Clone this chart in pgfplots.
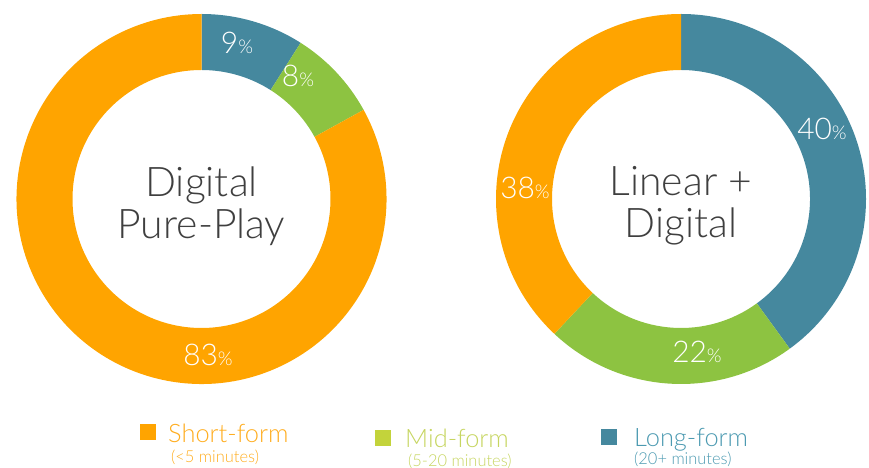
\documentclass[border=0pt]{standalone}
\usepackage{pgfplots}
\pgfplotsset{compat=1.18}
\usepackage{fontspec}
\setmainfont{Lato}[UprightFont=* Light]

\definecolor{shortc}{HTML}{FFA400}
\definecolor{midc}{HTML}{8DC341}
\definecolor{longc}{HTML}{45889E}
\definecolor{midleg}{HTML}{C3D33B}
\definecolor{shorttxt}{HTML}{FFAD1F}
\definecolor{midtxt}{HTML}{C6D560}
\definecolor{longtxt}{HTML}{4C9AB1}
\definecolor{centretxt}{HTML}{3F3F3F}

% ring of slices, clockwise from 12 o'clock: #1,#2 centre, #3 list value/colour
\newcommand\donut[3]{%
  \pgfmathsetmacro\cum{90}%
  \foreach \v/\c in {#3} {%
    \pgfmathsetmacro\b{\cum-3.6*\v}%
    \edef\tmp{\noexpand\fill[\c] ([shift={(\cum:185bp)}]axis cs:#1,#2)
      arc[start angle=\cum, end angle=\b, radius=185bp]
      -- ([shift={(\b:129bp)}]axis cs:#1,#2)
      arc[start angle=\b, end angle=\cum, radius=129bp] -- cycle;}%
    \tmp
    \global\let\cum\b
  }%
}
\newcommand\pct[1]{#1{\fontsize{19}{19}\selectfont\%}}

\begin{document}
\begin{tikzpicture}
\begin{axis}[width=869bp, height=468bp, scale only axis,
  xmin=0, xmax=869, ymin=0, ymax=468, enlargelimits=false,
  hide axis, ticks=none, clip=false]
  % Digital Pure-Play: long, mid, short
  \donut{201.5}{269}{9/longc, 8/midc, 83/shortc}
  % Linear + Digital: long, mid, short
  \donut{681}{269}{40/longc, 22/midc, 38/shortc}

  \begin{scope}[every node/.style={text=white, font=\fontsize{30}{30}\selectfont}]
    \node at (axis cs:237,425) {\pct{9}};
    \node at (axis cs:298,392) {\pct{8}};
    \node at (axis cs:208,113) {\pct{83}};
    \node at (axis cs:822,339) {\pct{40}};
    \node at (axis cs:525,280) {\pct{38}};
    \node at (axis cs:697,116) {\pct{22}};
  \end{scope}

  \begin{scope}[every node/.style={text=centretxt, align=center,
      font=\fontsize{41}{42}\selectfont}]
    \node at (axis cs:201.5,262) {Digital\\Pure-Play};
    \node at (axis cs:681,262) {Linear +\\Digital};
  \end{scope}

  % legend
  \fill[shortc] (axis cs:140,28) rectangle (axis cs:156,44);
  \fill[midleg] (axis cs:375,22) rectangle (axis cs:391,38);
  \fill[longc]  (axis cs:601,23) rectangle (axis cs:617,39);
  \begin{scope}[every node/.style={anchor=base west, inner sep=0pt}]
    \node[text=shorttxt, font=\fontsize{25.5}{25}\selectfont] at (axis cs:168,26) {Short-form};
    \node[text=shorttxt, font=\fontsize{16.5}{16}\selectfont] at (axis cs:171,6) {(<5 minutes)};
    \node[text=midtxt, font=\fontsize{25.5}{25}\selectfont] at (axis cs:405,21) {Mid-form};
    \node[text=midtxt, font=\fontsize{16.5}{16}\selectfont] at (axis cs:408,2) {(5-20 minutes)};
    \node[text=longtxt, font=\fontsize{25.5}{25}\selectfont] at (axis cs:634,22) {Long-form};
    \node[text=longtxt, font=\fontsize{16.5}{16}\selectfont] at (axis cs:634,4) {(20+ minutes)};
  \end{scope}
\end{axis}
\pgfresetboundingbox
\path (current axis.south west) rectangle (current axis.north east);
\end{tikzpicture}
\end{document}
